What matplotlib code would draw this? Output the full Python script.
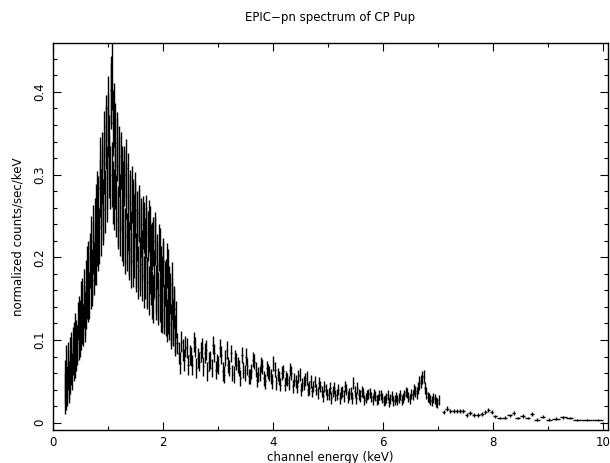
import numpy as np
import matplotlib
matplotlib.use("Agg")
import matplotlib.pyplot as plt
from matplotlib.ticker import MultipleLocator, FixedLocator, FixedFormatter

# ---------------- data ----------------
# low-energy fine bins (keV), two interleaved channel sets
energy_a = [0.22, 0.24, 0.26, 0.28, 0.30, 0.32, 0.34, 0.36, 0.38, 0.40,
            0.42, 0.44, 0.46, 0.48, 0.50, 0.52, 0.54, 0.56, 0.58, 0.60,
            0.62, 0.64, 0.66, 0.68, 0.70, 0.72, 0.74, 0.76, 0.78, 0.80,
            0.82, 0.84, 0.86, 0.88, 0.90, 0.92, 0.94, 0.96, 0.98, 1.00,
            1.02, 1.04, 1.06, 1.08, 1.10, 1.12, 1.14, 1.16, 1.18, 1.20,
            1.22, 1.24, 1.26, 1.28, 1.30, 1.32, 1.34, 1.36, 1.38, 1.40,
            1.42, 1.44, 1.46, 1.48, 1.50, 1.52, 1.54, 1.56, 1.58, 1.60,
            1.62, 1.64, 1.66, 1.68, 1.70, 1.72, 1.74, 1.76, 1.78, 1.80,
            1.82, 1.84, 1.86, 1.88, 1.90, 1.92, 1.94, 1.96, 1.98, 2.00,
            2.02, 2.04, 2.06, 2.08, 2.10, 2.12, 2.14, 2.16, 2.18, 2.20,
            2.22, 2.24]
# normalized counts/sec/keV in units of 1e-3
rate_a = [35, 68, 44, 64, 52, 82, 68, 80, 99, 76,
          102, 92, 123, 98, 124, 146, 120, 140, 124, 170,
          152, 192, 154, 192, 220, 172, 212, 198, 256, 222,
          264, 226, 310, 272, 316, 258, 314, 358, 296, 380,
          333, 297, 395, 420, 278, 372, 296, 338, 246, 310,
          266, 317, 230, 282, 300, 226, 308, 242, 205, 272,
          223, 276, 197, 244, 257, 190, 227, 254, 185, 232,
          202, 242, 170, 216, 230, 170, 238, 186, 210, 154,
          219, 180, 225, 152, 191, 154, 207, 138, 173, 192,
          133, 168, 131, 190, 133, 164, 119, 168, 125, 140,
          107, 125]
err_a = [25, 26, 24, 24, 23, 22, 22, 22, 23, 22,
         22, 22, 23, 22, 24, 25, 25, 26, 26, 27,
         27, 28, 28, 29, 30, 31, 32, 32, 33, 33,
         34, 34, 35, 35, 36, 37, 38, 38, 38, 39,
         39, 38, 40, 42, 38, 39, 38, 38, 36, 37,
         35, 35, 34, 34, 35, 34, 35, 34, 33, 34,
         33, 34, 33, 33, 34, 32, 32, 33, 32, 32,
         31, 32, 31, 31, 31, 30, 31, 30, 30, 29,
         30, 29, 30, 28, 29, 28, 29, 28, 28, 28,
         26, 27, 26, 27, 26, 26, 25, 26, 25, 25,
         23, 22]

energy_a2 = [0.23, 0.25, 0.27, 0.29, 0.31, 0.33, 0.35, 0.37, 0.39, 0.41,
             0.43, 0.45, 0.47, 0.49, 0.51, 0.53, 0.55, 0.57, 0.59, 0.61,
             0.63, 0.65, 0.67, 0.69, 0.71, 0.73, 0.75, 0.77, 0.79, 0.81,
             0.83, 0.85, 0.87, 0.89, 0.91, 0.93, 0.95, 0.97, 0.99, 1.01,
             1.03, 1.05, 1.07, 1.09, 1.11, 1.13, 1.15, 1.17, 1.19, 1.21,
             1.23, 1.25, 1.27, 1.29, 1.31, 1.33, 1.35, 1.37, 1.39, 1.41,
             1.43, 1.45, 1.47, 1.49, 1.51, 1.53, 1.55, 1.57, 1.59, 1.61,
             1.63, 1.65, 1.67, 1.69, 1.71, 1.73, 1.75, 1.77, 1.79, 1.81,
             1.83, 1.85, 1.87, 1.89, 1.91, 1.93, 1.95, 1.97, 1.99, 2.01,
             2.03, 2.05, 2.07, 2.09, 2.11, 2.13, 2.15, 2.17, 2.19, 2.21,
             2.23]
rate_a2 = [50, 40, 72, 48, 58, 88, 62, 94, 72, 110,
           84, 96, 130, 104, 112, 150, 118, 160, 132, 140,
           186, 150, 200, 166, 180, 232, 186, 240, 200, 270,
           218, 284, 236, 300, 252, 340, 268, 345, 282, 360,
           310, 402, 300, 362, 270, 348, 262, 330, 250, 322,
           236, 300, 224, 296, 214, 280, 218, 292, 210, 266,
           196, 262, 208, 270, 196, 248, 182, 250, 192, 240,
           178, 236, 180, 244, 168, 226, 160, 232, 172, 214,
           150, 220, 162, 200, 146, 212, 150, 186, 136, 196,
           142, 172, 124, 184, 126, 156, 114, 150, 118, 138,
           104]
err_a2 = [26, 25, 25, 24, 23, 22, 22, 22, 22, 23,
          22, 22, 23, 24, 24, 25, 25, 26, 26, 27,
          28, 28, 29, 29, 30, 31, 32, 32, 33, 34,
          34, 35, 35, 36, 37, 37, 38, 38, 39, 39,
          38, 41, 39, 40, 37, 39, 37, 38, 36, 37,
          35, 35, 34, 34, 34, 34, 35, 34, 33, 33,
          33, 33, 33, 33, 33, 32, 32, 32, 32, 32,
          31, 31, 31, 31, 30, 30, 30, 30, 30, 29,
          29, 29, 29, 28, 28, 28, 28, 28, 27, 27,
          26, 26, 26, 26, 26, 25, 25, 25, 25, 24,
          23]

# medium-energy bins (keV), two interleaved channel sets
energy_b = [2.26, 2.31, 2.36, 2.41, 2.46, 2.51, 2.56, 2.61, 2.66, 2.71,
            2.76, 2.81, 2.86, 2.91, 2.96, 3.01, 3.06, 3.11, 3.16, 3.21,
            3.26, 3.31, 3.36, 3.41, 3.46, 3.51, 3.56, 3.61, 3.66, 3.71,
            3.76, 3.81, 3.86, 3.91, 3.96, 4.01, 4.06, 4.11, 4.16, 4.21,
            4.26, 4.31, 4.36, 4.41, 4.46, 4.51, 4.56, 4.61, 4.66, 4.71,
            4.76, 4.81, 4.86, 4.91, 4.96, 5.01, 5.06, 5.11, 5.16, 5.21,
            5.26, 5.31, 5.36, 5.41, 5.46, 5.51, 5.56, 5.61, 5.66, 5.71,
            5.76, 5.81, 5.86, 5.91, 5.96, 6.01, 6.06, 6.11, 6.16, 6.21,
            6.26, 6.31, 6.36, 6.41, 6.46, 6.51, 6.56, 6.61, 6.66, 6.71,
            6.76, 6.81, 6.86, 6.91, 6.96, 7.01]
rate_b = [96, 72, 88, 92, 70, 80, 98, 66, 74, 90,
          84, 62, 76, 94, 64, 70, 82, 58, 88, 66,
          60, 78, 70, 54, 64, 80, 56, 62, 74, 52,
          60, 68, 50, 62, 56, 72, 48, 54, 60, 46,
          52, 64, 44, 50, 56, 40, 48, 54, 42, 38,
          50, 36, 44, 32, 40, 35, 30, 42, 34, 30,
          38, 44, 31, 36, 48, 30, 34, 38, 28, 33,
          36, 27, 32, 29, 34, 26, 30, 25, 32, 28,
          27, 34, 30, 37, 31, 35, 40, 36, 48, 55,
          42, 31, 28, 30, 25, 27]
err_b = [13, 13, 13, 13, 12, 12, 12, 12, 12, 12,
         12, 11, 11, 11, 11, 11, 11, 10, 11, 10,
         10, 10, 10, 10, 10, 10, 9, 9, 9, 9,
         9, 9, 9, 9, 9, 9, 8, 8, 8, 8,
         8, 8, 8, 8, 8, 8, 8, 8, 8, 7,
         7, 7, 7, 7, 7, 7, 7, 7, 7, 7,
         7, 7, 7, 7, 7, 7, 7, 7, 6, 6,
         6, 6, 6, 6, 6, 6, 6, 6, 6, 6,
         6, 6, 6, 6, 6, 6, 7, 7, 8, 8,
         7, 6, 6, 6, 6, 6]

energy_b2 = [2.285, 2.335, 2.385, 2.435, 2.485, 2.535, 2.585, 2.635, 2.685, 2.735,
             2.785, 2.835, 2.885, 2.935, 2.985, 3.035, 3.085, 3.135, 3.185, 3.235,
             3.285, 3.335, 3.385, 3.435, 3.485, 3.535, 3.585, 3.635, 3.685, 3.735,
             3.785, 3.835, 3.885, 3.935, 3.985, 4.035, 4.085, 4.135, 4.185, 4.235,
             4.285, 4.335, 4.385, 4.435, 4.485, 4.535, 4.585, 4.635, 4.685, 4.735,
             4.785, 4.835, 4.885, 4.935, 4.985, 5.035, 5.085, 5.135, 5.185, 5.235,
             5.285, 5.335, 5.385, 5.435, 5.485, 5.535, 5.585, 5.635, 5.685, 5.735,
             5.785, 5.835, 5.885, 5.935, 5.985, 6.035, 6.085, 6.135, 6.185, 6.235,
             6.285, 6.335, 6.385, 6.435, 6.485, 6.535, 6.585, 6.635, 6.685, 6.735,
             6.785, 6.835, 6.885, 6.935, 6.985]
rate_b2 = [84, 98, 76, 90, 82, 70, 92, 78, 86, 68,
           88, 74, 66, 84, 72, 90, 62, 78, 70, 84,
           58, 74, 66, 82, 60, 68, 56, 76, 64, 58,
           70, 54, 66, 60, 50, 64, 58, 46, 62, 54,
           48, 60, 52, 44, 58, 46, 52, 40, 50, 44,
           40, 48, 38, 44, 34, 42, 38, 33, 40, 36,
           32, 40, 35, 30, 38, 42, 32, 36, 30, 35,
           31, 35, 28, 33, 30, 27, 33, 29, 26, 31,
           30, 28, 33, 36, 29, 34, 38, 42, 50, 56,
           36, 30, 26, 29, 24]
err_b2 = [13, 13, 13, 12, 12, 12, 12, 12, 12, 12,
          12, 11, 11, 11, 11, 11, 11, 10, 10, 10,
          10, 10, 10, 10, 10, 10, 9, 9, 9, 9,
          9, 9, 9, 9, 9, 9, 8, 8, 8, 8,
          8, 8, 8, 8, 8, 8, 8, 8, 8, 7,
          7, 7, 7, 7, 7, 7, 7, 7, 7, 7,
          7, 7, 7, 7, 7, 7, 7, 6, 6, 6,
          6, 6, 6, 6, 6, 6, 6, 6, 6, 6,
          6, 6, 6, 6, 6, 6, 7, 7, 8, 8,
          7, 6, 6, 6, 6]

# high-energy wide bins (keV)
energy_c = [7.10, 7.16, 7.22, 7.28, 7.34, 7.40, 7.46, 7.52, 7.58, 7.65,
            7.72, 7.80, 7.86, 7.91, 7.97, 8.03, 8.12, 8.21, 8.30, 8.37,
            8.45, 8.54, 8.63, 8.71, 8.80, 8.90, 9.01, 9.14, 9.27, 9.39,
            9.52, 9.70, 9.90]
halfwidth_c = [0.03, 0.03, 0.03, 0.03, 0.03, 0.03, 0.03, 0.03, 0.03, 0.035,
               0.035, 0.035, 0.03, 0.03, 0.03, 0.035, 0.045, 0.045, 0.04, 0.035,
               0.045, 0.045, 0.045, 0.04, 0.05, 0.05, 0.055, 0.065, 0.065, 0.06,
               0.07, 0.1, 0.1]
rate_c = [12.5, 17, 14.5, 14.5, 14.5, 14.5, 14, 9.5, 11.5, 9,
          9, 11, 13, 15.5, 12.5, 7.7, 5.7, 5.8, 9, 12,
          5.7, 8, 5.7, 10.5, 3.7, 7.3, 3.7, 4.8, 6.7, 5.7,
          3.7, 3, 3]
err_c = [2.5, 3, 2.5, 2.5, 2.5, 2.5, 2.5, 2.2, 2.3, 2.2,
         2.2, 2.3, 2.4, 2.5, 2.4, 2, 1.8, 1.8, 2, 2.2,
         1.8, 2, 1.8, 2, 1.6, 1.8, 1.5, 1.6, 1.7, 1.6,
         1.4, 1.2, 1.2]

# ---------------- figure ----------------
fig = plt.figure(figsize=(6.10, 4.63), dpi=100)
ax = fig.add_axes([52.7 / 610, 33 / 463, 555 / 610, 387.3 / 463])

scale = 1e-3
kw = dict(fmt='none', ecolor='black', elinewidth=1.0, capsize=0)
ax.errorbar(np.array(energy_a), np.array(rate_a) * scale,
            yerr=np.array(err_a) * scale, xerr=0.005, **kw)
ax.errorbar(np.array(energy_a2), np.array(rate_a2) * scale,
            yerr=np.array(err_a2) * scale, xerr=0.005, **kw)
ax.errorbar(np.array(energy_b), np.array(rate_b) * scale,
            yerr=np.array(err_b) * scale, xerr=0.0125, **kw)
ax.errorbar(np.array(energy_b2), np.array(rate_b2) * scale,
            yerr=np.array(err_b2) * scale, xerr=0.0125, **kw)
ax.errorbar(np.array(energy_c), np.array(rate_c) * scale,
            yerr=np.array(err_c) * scale, xerr=np.array(halfwidth_c), **kw)

ax.set_xlim(0, 10.08)
ax.set_ylim(-0.0088, 0.4595)

ax.xaxis.set_major_locator(FixedLocator([0, 2, 4, 6, 8, 10]))
ax.xaxis.set_major_formatter(FixedFormatter(['0', '2', '4', '6', '8', '10']))
ax.xaxis.set_minor_locator(MultipleLocator(1))
ax.yaxis.set_major_locator(FixedLocator([0, 0.1, 0.2, 0.3, 0.4]))
ax.yaxis.set_major_formatter(FixedFormatter(['0', '0.1', '0.2', '0.3', '0.4']))
ax.yaxis.set_minor_locator(MultipleLocator(0.02))

ax.tick_params(which='both', direction='in', top=True, right=True,
               width=0.8, color='black', labelsize=8.5)
ax.tick_params(which='major', length=6)
ax.tick_params(which='minor', length=3)
ax.tick_params(axis='x', pad=4)
ax.tick_params(axis='y', pad=5)
for lab in ax.get_yticklabels():
    lab.set_rotation(90)
    lab.set_va('center')

for sp in ax.spines.values():
    sp.set_linewidth(1.0)

ax.set_xlabel('channel energy (keV)', fontsize=8.5, labelpad=2)
ax.set_ylabel('normalized counts/sec/keV', fontsize=8.5, labelpad=6)
fig.text(330 / 610, 1 - 17 / 463, 'EPIC\u2212pn spectrum of CP Pup',
         ha='center', va='center', fontsize=8.5)

fig.savefig('out.png', dpi=100)
